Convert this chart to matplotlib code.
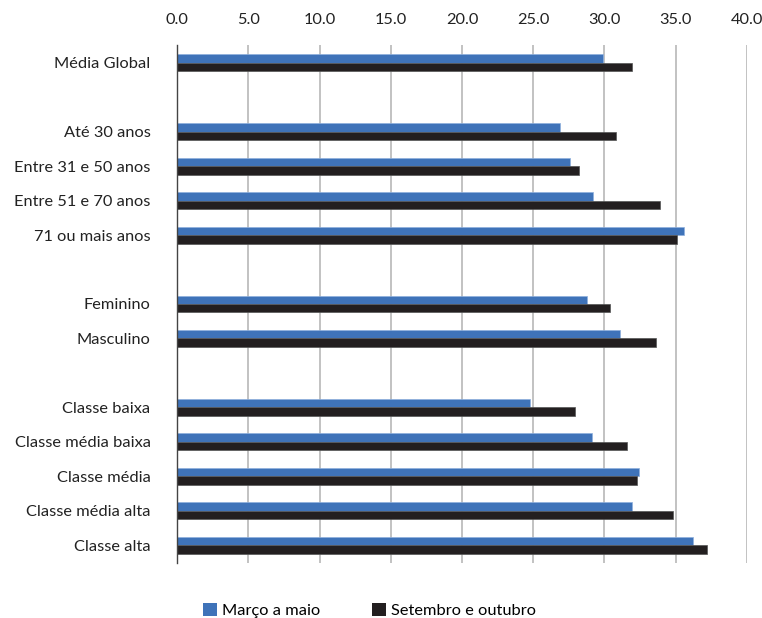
import numpy as np
import matplotlib.pyplot as plt
from matplotlib.patches import Patch

categorias = ['Média Global', '',
              'Até 30 anos', 'Entre 31 e 50 anos', 'Entre 51 e 70 anos', '71 ou mais anos', '',
              'Feminino', 'Masculino', '',
              'Classe baixa', 'Classe média baixa', 'Classe média', 'Classe média alta', 'Classe alta']
marco_maio = [29.9, np.nan,
              26.9, 27.6, 29.2, 35.6, np.nan,
              28.8, 31.1, np.nan,
              24.8, 29.1, 32.4, 31.9, 36.2]
set_out = [31.9, np.nan,
           30.8, 28.2, 33.9, 35.1, np.nan,
           30.4, 33.6, np.nan,
           27.9, 31.6, 32.3, 34.8, 37.2]
ticks_x = [0, 5, 10, 15, 20, 25, 30, 35, 40]

plt.rcParams['font.family'] = ['Lato', 'DejaVu Sans']
azul = '#3F73B9'
preto = '#231F20'

fig = plt.figure(figsize=(7.62, 6.18), dpi=100)
ax = fig.add_axes([0.2323, 0.089, 0.748, 0.8382])

y = np.arange(len(categorias))
h = 0.245
ax.barh(y - h / 2, marco_maio, height=h, color=azul, edgecolor='#8FB0DD', linewidth=0.5, zorder=3)
ax.barh(y + h / 2, set_out, height=h, color=preto, edgecolor='#555555', linewidth=0.5, zorder=3)

ax.set_xlim(0, 40)
ax.set_ylim(14.52, -0.52)
ax.set_yticks(y)
ax.set_yticklabels(categorias, fontsize=11.8, color='#222222')
ax.set_xticks(ticks_x)
ax.set_xticklabels(['%.1f' % t for t in ticks_x], fontsize=11.8, color='#222222')
ax.xaxis.tick_top()
ax.tick_params(axis='both', length=0)
ax.tick_params(axis='x', pad=13)
ax.tick_params(axis='y', pad=19)

ax.grid(axis='x', color='#BDBDBD', linewidth=1.3, zorder=0)
for s in ['top', 'right', 'bottom']:
    ax.spines[s].set_visible(False)
ax.spines['left'].set_color('#444444')
ax.spines['left'].set_linewidth(1.0)
ax.spines['left'].set_zorder(4)

handles = [Patch(facecolor=azul, label='Março a maio'),
           Patch(facecolor=preto, label='Setembro e outubro')]
fig.legend(handles=handles, loc='center', bbox_to_anchor=(0.485, 0.012), ncol=2,
           frameon=False, fontsize=11.8, handlelength=0.85, handleheight=0.85,
           handletextpad=0.3, columnspacing=3.2)

fig.savefig('out.png', dpi=100)
